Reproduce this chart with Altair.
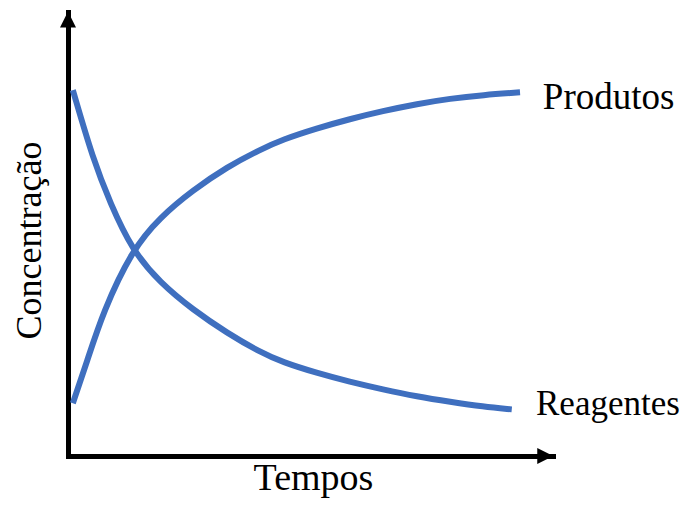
import altair as alt
import pandas as pd

# Curve values (time, concentration)
tempo_reagentes = [1.0, 5.2, 8.7, 13.2, 19.0, 25.8, 32.8, 39.6, 44.3, 51.3, 58.1, 64.9, 72.0, 78.8, 85.6, 91.5]
conc_reagentes = [82.4, 66.7, 57.0, 46.4, 39.0, 32.9, 27.7, 23.4, 21.1, 18.7, 16.7, 15.0, 13.4, 12.2, 11.1, 10.5]
tempo_produtos = [1.0, 3.9, 7.2, 13.2, 19.0, 25.8, 32.8, 39.6, 44.3, 51.3, 58.1, 64.9, 72.0, 78.8, 85.6, 93.2]
conc_produtos = [11.9, 21.2, 32.4, 46.4, 53.8, 59.9, 65.1, 69.0, 71.3, 73.8, 75.9, 77.7, 79.3, 80.5, 81.3, 81.9]

series_names = ["Produtos", "Reagentes"]
label_x = [97.9, 96.5]
label_y = [78.2, 9.2]
label_size = [37, 35]

BLUE = "#3f6fbf"
FONT = "Liberation Serif"

rows = []
for t, c in zip(tempo_reagentes, conc_reagentes):
    rows.append({"t": t, "c": c, "serie": "Reagentes"})
for t, c in zip(tempo_produtos, conc_produtos):
    rows.append({"t": t, "c": c, "serie": "Produtos"})
df = pd.DataFrame(rows)

labels = pd.DataFrame({"name": series_names, "x": label_x, "y": label_y, "s": label_size})

xs = alt.Scale(domain=[0, 100], nice=False, zero=False)
ys = alt.Scale(domain=[0, 100], nice=False, zero=False)

x_axis = alt.Axis(
    title="Tempos", labels=False, ticks=False, grid=False,
    domainColor="black", domainWidth=5, domainCap="square",
    titleFont=FONT, titleFontSize=38, titleFontWeight="normal", titleColor="black",
    titleX=245, titleY=33, titleBaseline="alphabetic", titleAlign="center",
)
y_axis = alt.Axis(
    title="Concentração", labels=False, ticks=False, grid=False,
    domainColor="black", domainWidth=5, domainCap="square",
    titleFont=FONT, titleFontSize=36, titleFontWeight="normal", titleColor="black",
    titleX=-28, titleY=228, titleAngle=270, titleBaseline="alphabetic", titleAlign="center",
)

lines = alt.Chart(df).mark_line(
    strokeWidth=6, color=BLUE, interpolate="basis", strokeCap="butt"
).encode(
    x=alt.X("t:Q", scale=xs, axis=x_axis),
    y=alt.Y("c:Q", scale=ys, axis=y_axis),
    detail="serie:N",
)

arrows = pd.DataFrame({
    "x": [0.0, 98.4],
    "y": [98.3, 0.0],
    "dir": ["up", "right"],
})
arrow_up = alt.Chart(arrows[arrows.dir == "up"]).mark_point(
    shape="M0,-1L1,1L-1,1Z", size=256, filled=True, color="black", opacity=1, strokeWidth=0
).encode(x=alt.X("x:Q", scale=xs), y=alt.Y("y:Q", scale=ys))
arrow_right = alt.Chart(arrows[arrows.dir == "right"]).mark_point(
    shape="M1,0L-1,-1L-1,1Z", size=256, filled=True, color="black", opacity=1, strokeWidth=0
).encode(x=alt.X("x:Q", scale=xs), y=alt.Y("y:Q", scale=ys))

text = alt.Chart(labels).mark_text(
    font=FONT, align="left", baseline="alphabetic", color="black"
).encode(
    x=alt.X("x:Q", scale=xs), y=alt.Y("y:Q", scale=ys), text="name:N",
    size=alt.Size("s:Q", scale=None, legend=None),
)

chart = alt.layer(lines, arrow_up, arrow_right, text).properties(
    width=485, height=444,
    autosize=alt.AutoSizeParams(type="none"),
    padding={"left": 60, "top": 4, "right": 127, "bottom": 42},
    background="white",
).configure_view(stroke=None)

chart.save("out.html", embed_options={"renderer": "svg", "actions": False})
